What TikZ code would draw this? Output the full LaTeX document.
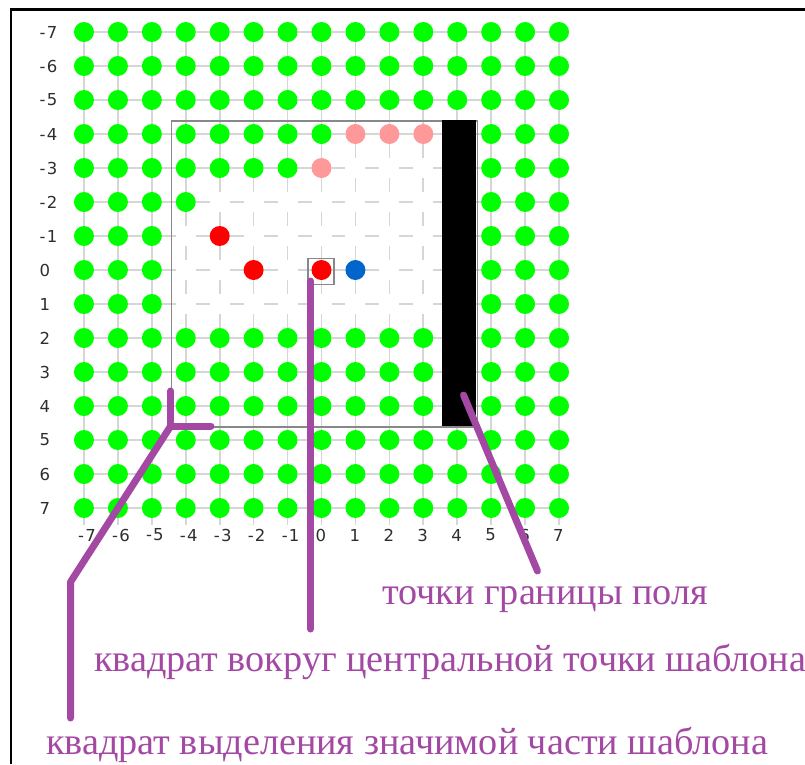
\documentclass[tikz,border=0pt]{standalone}
\usepackage{fontspec}
\newfontfamily\labfont{DejaVu Sans}
\newfontfamily\serfont{Liberation Serif}
\definecolor{dotgreen}{RGB}{0,255,0}
\definecolor{dotred}{RGB}{255,0,0}
\definecolor{dotpink}{RGB}{255,153,153}
\definecolor{dotblue}{RGB}{0,102,204}
\definecolor{gridgray}{RGB}{214,214,214}
\definecolor{callout}{RGB}{163,73,164}
\definecolor{boxgray}{RGB}{136,136,136}
\newcommand{\numlab}[1]{\ifnum#1<0 -\kern1.2pt\number\numexpr-#1\relax\else#1\fi}
\begin{document}
\begin{tikzpicture}[x=1pt,y=-1pt,
  gridseg/.style={draw=gridgray,line width=1.6pt},
  dot/.style={circle,inner sep=0pt,minimum size=20pt,fill=#1},
  lab/.style={inner sep=0pt,font=\labfont\fontsize{16.5}{17}\selectfont,text=black!82},
  note/.style={inner sep=0pt,font=\serfont\fontsize{38.2}{40}\selectfont,text=callout,anchor=base west},
  callline/.style={draw=callout,line width=7pt,line cap=round,line join=round},
  boxline/.style={draw=boxgray,line width=1.3pt}]
\useasboundingbox (0,0) rectangle (805,764);
% frame
\draw[line width=2.6pt] (11,764) -- (11,9.5) -- (805,9.5);
% grid dashes
\foreach \c in {-7,...,7}{
  \foreach \r in {-7,...,6}{
    \draw[gridseg] ({321.5+33.93*\c},{270+34*\r+10}) -- ++(0,14);
  }
  \draw[gridseg] ({321.5+33.93*\c},{270+34*7+10}) -- ++(0,7);
}
\foreach \r in {-7,...,7}{
  \foreach \c in {-7,...,6}{
    \draw[gridseg] ({321.5+33.93*\c+10},{270+34*\r}) -- ++(13.93,0);
  }
}
% selection square
\node[boxline,draw,rectangle,inner sep=0pt,minimum width=306pt,minimum height=306pt,anchor=north west] (sel) at (170.7,120.3) {};
% border points (black bar)
\node[fill=black,rectangle,inner sep=0pt,minimum width=34.3pt,minimum height=306.5pt,anchor=north west] (bar) at (441.5,119.5) {};
% green dots outside the window
\foreach \c in {-7,...,7}{
  \foreach \r in {-7,...,7}{
    \pgfmathtruncatemacro{\inwin}{(abs(\c)<=4)&&(abs(\r)<=4)}
    \ifnum\inwin=0
      \node[dot=dotgreen] (p\c_\r) at ({321.5+33.93*\c},{270+34*\r}) {};
    \fi
  }
}
% green dots inside the window
\foreach \c/\r in {-4/-4,-3/-4,-2/-4,-1/-4,0/-4,-4/-3,-3/-3,-2/-3,-1/-3,-4/-2}{
  \node[dot=dotgreen] (p\c_\r) at ({321.5+33.93*\c},{270+34*\r}) {};
}
\foreach \r in {2,3,4}{
  \foreach \c in {-4,...,3}{
    \node[dot=dotgreen] (p\c_\r) at ({321.5+33.93*\c},{270+34*\r}) {};
  }
}
% pink dots
\foreach \c/\r in {1/-4,2/-4,3/-4,0/-3}{
  \node[dot=dotpink] (p\c_\r) at ({321.5+33.93*\c},{270+34*\r}) {};
}
% red and blue dots
\node[dot=dotred] (pm3_m1) at ({321.5-33.93*3},{270-34}) {};
\node[dot=dotred] (pm2_0) at ({321.5-33.93*2},270) {};
\node[dot=dotred] (p0_0) at (321.5,270) {};
\node[dot=dotblue] (p1_0) at ({321.5+33.93},270) {};
% square round the central point
\node[boxline,draw,rectangle,inner sep=0pt,minimum size=26pt] (csq) at (321,271.3) {};
% axis labels
\foreach \r in {-7,...,7}{
  \node[lab,anchor=west] (rl\r) at (39.5,{270+34*\r}) {\numlab{\r}};
}
\foreach \c in {-7,...,7}{
  \node[lab,anchor=west] (cl\c) at ({321.5+33.93*\c-6},535) {\numlab{\c}};
}
% callout texts
\node[note] (t1) at (382,604) {точки границы поля};
\node[note] (t2) at (94,671) {квадрат вокруг центральной точки шаблона};
\node[note] (t3) at (46,754) {квадрат выделения значимой части шаблона};
% callout lines
\coordinate (k1) at (170.7,426);
\coordinate (k1a) at (170.7,391);
\coordinate (k1b) at (211,426);
\coordinate (k1c) at (70.5,582);
\coordinate (k1d) at (70.5,718);
\draw[callline] (k1a) -- (k1) -- (k1b);
\draw[callline] (k1) -- (k1c) -- (k1d);
\coordinate (k2a) at (310.5,281);
\coordinate (k2b) at (310.5,629);
\draw[callline] (k2a) -- (k2b);
\coordinate (k3a) at (463.5,395);
\coordinate (k3b) at (537.5,571);
\draw[callline] (k3a) -- (k3b);
\end{tikzpicture}
\end{document}
